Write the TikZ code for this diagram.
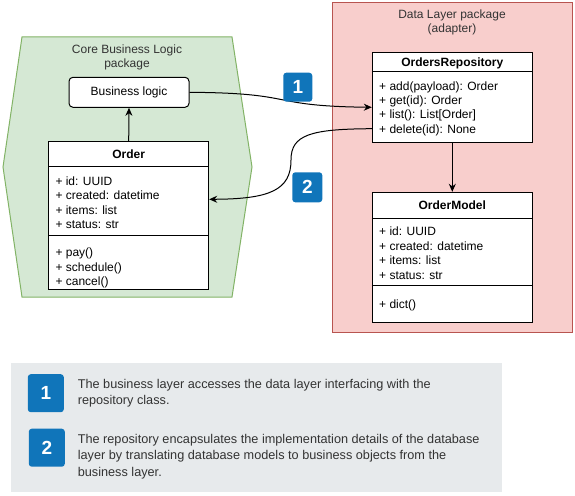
\documentclass[tikz,border=0pt]{standalone}
\usepackage{fontspec}
\setmainfont{Liberation Sans}
\usetikzlibrary{arrows.meta}
\definecolor{corefill}{RGB}{213,232,212}
\definecolor{coreline}{RGB}{130,179,102}
\definecolor{datafill}{RGB}{248,206,204}
\definecolor{dataline}{RGB}{184,84,80}
\definecolor{badgeblue}{RGB}{16,117,186}
\definecolor{notefill}{RGB}{231,234,236}
\definecolor{notetext}{RGB}{51,51,51}
\newcommand{\diafont}{\fontsize{12}{14}\selectfont}
\tikzstyle{every path}=[line width=1pt]
\tikzstyle{classbox}=[draw, fill=white, inner sep=0pt]
\tikzstyle{classhead}=[font=\diafont\bfseries, inner sep=0pt]
\tikzstyle{member}=[anchor=west, inner sep=0pt, text height=8.6pt, text depth=0pt]
\tikzstyle{stepbadge}=[fill=badgeblue, rounded corners=3pt, text=white, inner sep=0pt, font=\fontsize{19}{19}\selectfont\bfseries]
\tikzstyle{flow}=[-{Stealth[length=8pt,width=7pt]}]
\tikzstyle{notetxt}=[anchor=west, align=left, inner sep=0pt, text=notetext, font=\fontsize{12.7}{16.7}\selectfont]

\begin{document}
\begin{tikzpicture}[x=1pt, y=-1pt, font=\diafont]
            \useasboundingbox (0, 0) rectangle (575, 495);

            % core package
            \draw[coreline, fill=corefill] (22, 37) -- (232, 37) -- (252, 167)
                -- (232, 297) -- (22, 297) -- (3, 167) -- cycle;
            \node[align=center, text=notetext] (coretitle) at (127, 57.7) {Core Business Logic\\package};
            \node[classbox, rounded corners=4pt, minimum width=120pt, minimum height=30pt] (logic) at (129, 92.3) {Business logic};

            \node[classbox, minimum width=160pt, minimum height=147.7pt] (order) at (128.7, 215.2) {};
            \draw ([yshift=-26pt]order.north west) -- ([yshift=-26pt]order.north east);
            \draw ([yshift=-94.4pt]order.north west) -- ([yshift=-94.4pt]order.north east);
            \node[classhead] (orderhead) at (128.7, 154.3) {Order};
            \node[member] (oid) at (55, 181) {+ id: UUID};
            \node[member] (ocreated) at (55, 195.3) {+ created: datetime};
            \node[member] (oitems) at (55, 209.7) {+ items: list};
            \node[member] (ostatus) at (55, 223.7) {+ status: str};
            \node[member] (opay) at (55, 252) {+ pay()};
            \node[member] (oschedule) at (55, 266.7) {+ schedule()};
            \node[member] (ocancel) at (55, 281) {+ cancel()};

            % data package
            \draw[dataline, fill=datafill] (332.3, 2.7) rectangle (572.3, 332.3);
            \node[align=center, text=notetext] (datatitle) at (452, 22.8) {Data Layer package\\(adapter)};

            \node[classbox, minimum width=160pt, minimum height=90pt] (repo) at (452.3, 97.3) {};
            \draw ([yshift=-20pt]repo.north west) -- ([yshift=-20pt]repo.north east);
            \node[classhead] (repohead) at (452.3, 63.5) {OrdersRepository};
            \node[member] (radd) at (378.7, 86) {+ add(payload): Order};
            \node[member] (rget) at (378.7, 100) {+ get(id): Order};
            \node[member] (rlist) at (378.7, 114.3) {+ list(): List[Order]};
            \node[member] (rdelete) at (378.7, 128.7) {+ delete(id): None};

            \node[classbox, minimum width=160pt, minimum height=130pt] (model) at (452.3, 257.3) {};
            \draw ([yshift=-26.7pt]model.north west) -- ([yshift=-26.7pt]model.north east);
            \draw ([yshift=-93.7pt]model.north west) -- ([yshift=-93.7pt]model.north east);
            \node[classhead] (modelhead) at (452.3, 205.7) {OrderModel};
            \node[member] (mid) at (378.7, 231) {+ id: UUID};
            \node[member] (mcreated) at (378.7, 245.7) {+ created: datetime};
            \node[member] (mitems) at (378.7, 260.3) {+ items: list};
            \node[member] (mstatus) at (378.7, 274.7) {+ status: str};
            \node[member] (mdict) at (378.7, 304.3) {+ dict()};

            % connectors
            \draw[flow] (order.north) -- (logic.south);
            \draw[flow] (repo.south) -- (model.north);
            \draw[flow] (logic.east) .. controls (300, 93) and (265, 106) .. ([yshift=-10pt]repo.west);
            \draw[flow] ([yshift=-31.4pt]repo.west) .. controls (310, 129) and (291, 135) .. (291, 160)
                .. controls (291, 190) and (270, 199) .. ([yshift=15.9pt]order.east);

            \node[stepbadge, minimum width=29pt, minimum height=29pt] (stepone) at (297.8, 87.2) {1};
            \node[stepbadge, minimum width=30pt, minimum height=30pt] (steptwo) at (307.3, 187.3) {2};

            % notes
            \fill[notefill] (11, 362.7) rectangle (501.7, 492.3);
            \node[stepbadge, minimum width=36pt, minimum height=38pt] (noteone) at (45.8, 393.2) {1};
            \node[stepbadge, minimum width=36pt, minimum height=38pt] (notetwo) at (46.8, 447.7) {2};
            \node[notetxt] (textone) at (77.3, 393.3)
                {The business layer accesses the data layer interfacing with the\\repository class.};
            \node[notetxt] (texttwo) at (77.3, 456.7)
                {The repository encapsulates the implementation details of the database\\layer by translating database models to business objects from the\\business layer.};
        \end{tikzpicture}
\end{document}
